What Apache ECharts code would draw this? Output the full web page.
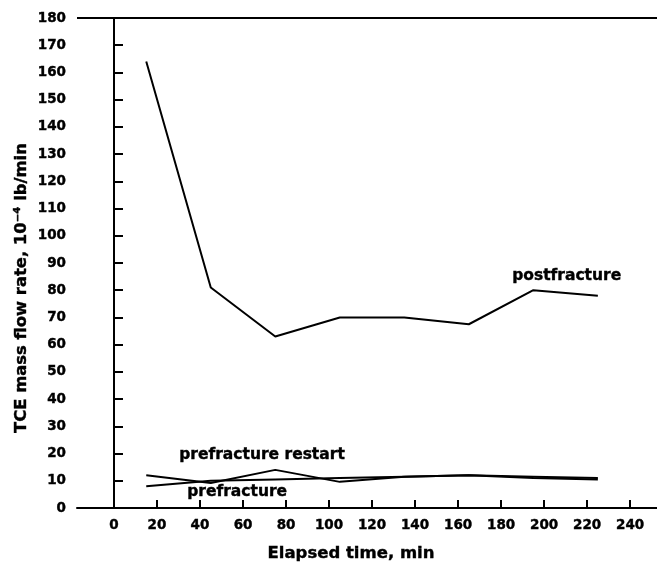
<!DOCTYPE html>
<html>
<head>
<meta charset="utf-8">
<script src="https://cdn.jsdelivr.net/npm/echarts@6/dist/echarts.min.js"></script>
<style>html,body{margin:0;padding:0;background:#fff}#c{width:657px;height:564px}</style>
</head>
<body>
<div id="c"></div>
<script>
var times = [15, 45, 75, 105, 135, 165, 195, 225];
var postfracture = [164, 81, 63, 70, 70, 67.5, 80, 78];
var prefractureRestart = [12, 9.2, 14, 9.6, 11.5, 12, 11.5, 11];
var prefracture = [8, 10, 10.5, 11, 11.5, 12, 11, 10.5];
var xTicks = [0, 20, 40, 60, 80, 100, 120, 140, 160, 180, 200, 220, 240];
var yTicks = [0,10,20,30,40,50,60,70,80,90,100,110,120,130,140,150,160,170,180];

function pairs(v){ return times.map(function(t,i){ return [t, v[i]]; }); }

var FONT = '"DejaVu Sans", "Liberation Sans", Arial, sans-serif';
var chart = echarts.init(document.getElementById('c'), null, {renderer:'canvas'});
var lineStyle = {color:'#000', width:2};
var tickLabel = {color:'#000', fontFamily:FONT, fontWeight:'bold', fontSize:13.5, textBorderColor:'#000', textBorderWidth:0.4};
function txt(s, size){ return {text:s, fill:'#000', font:'bold '+size+'px '+FONT, stroke:'#000', lineWidth:0.4}; }
chart.setOption({
  animation:false,
  backgroundColor:'#fff',
  grid:{left:77, top:18, right:0, bottom:56, containLabel:false},
  xAxis:{
    type:'value', min:-17.2, max:252.5,
    axisLine:{show:true, onZero:false, lineStyle:{color:'#000', width:2}},
    axisTick:{show:true, inside:true, length:8, lineStyle:{color:'#000', width:2},
      customValues: xTicks.slice(1)},
    axisLabel:Object.assign({customValues: xTicks, margin:10}, tickLabel),
    splitLine:{show:false}
  },
  yAxis:{
    type:'value', min:0, max:180,
    axisLine:{show:true, lineStyle:{color:'#000', width:2}},
    axisTick:{show:true, inside:true, length:9, lineStyle:{color:'#000', width:2}, customValues: yTicks.slice(1)},
    axisLabel:Object.assign({customValues: yTicks, margin:11}, tickLabel),
    splitLine:{show:false}
  },
  series:[
    {type:'line', name:'postfracture', data:pairs(postfracture), symbol:'none', lineStyle:lineStyle,
     markLine:{silent:true, symbol:'none', label:{show:false}, lineStyle:{color:'#000', width:2, type:'solid'},
       data:[{xAxis:0},{yAxis:180}]}},
    {type:'line', name:'prefracture restart', data:pairs(prefractureRestart), symbol:'none', lineStyle:lineStyle},
    {type:'line', name:'prefracture', data:pairs(prefracture), symbol:'none', lineStyle:lineStyle}
  ],
  graphic:[
    {type:'text', left:512, top:268, style:txt('postfracture', 15.5)},
    {type:'text', left:179, top:447, style:txt('prefracture restart', 15.5)},
    {type:'text', left:187, top:484, style:txt('prefracture', 15.5)},
    {type:'text', x:351, y:554, style:Object.assign(txt('Elapsed time, min', 16.5), {align:'center', verticalAlign:'middle'})},
    {type:'text', x:22, y:288, rotation:Math.PI/2, style:Object.assign(txt('TCE mass flow rate, 10\u207B\u2074 lb/min', 16.4), {align:'center', verticalAlign:'middle'})}
  ]
});
</script>
</body>
</html>
